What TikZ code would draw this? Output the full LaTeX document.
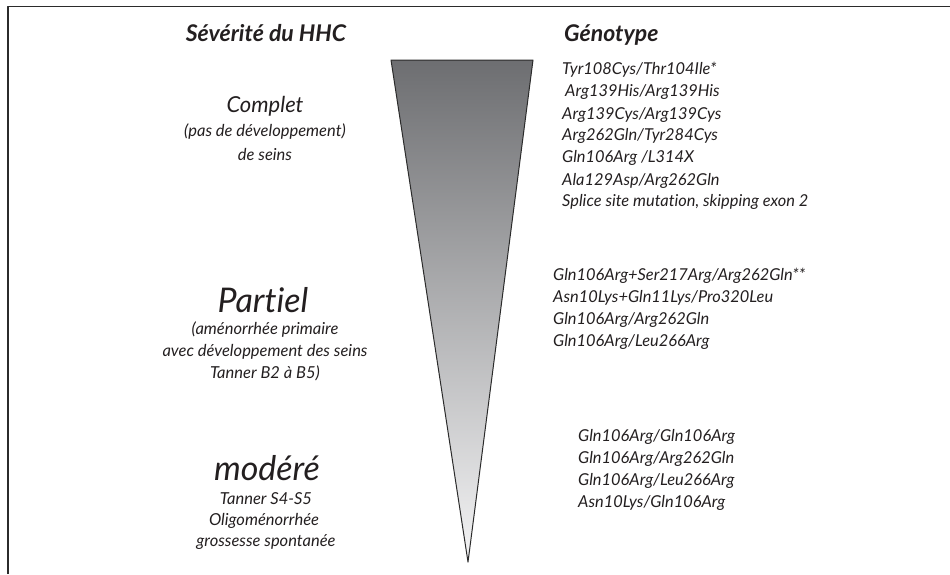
\documentclass[tikz,border=0pt]{standalone}
\usepackage{fontspec}
\setmainfont{Lato}[Ligatures=NoCommon]
\usepackage{tikz}
\usepackage{xcolor}
\definecolor{framegray}{HTML}{2B2B2B}
\definecolor{coneTop}{HTML}{6D6E71}
\definecolor{coneBot}{HTML}{F4F4F5}
\definecolor{txtgray}{HTML}{231F20}

\begin{document}
\begin{tikzpicture}[x=1pt, y=-1pt, line cap=round, line join=round,
  head/.style={font=\fontsize{23}{26}\selectfont\bfseries\itshape, text=txtgray, inner sep=0pt},
  grade/.style={font=\fontsize{22}{25}\selectfont\itshape, text=txtgray, inner sep=0pt},
  biggrade/.style={font=\fontsize{34}{38}\selectfont\itshape, text=txtgray, inner sep=0pt},
  note/.style={font=\fontsize{16.5}{19}\selectfont\itshape, text=txtgray, inner sep=0pt},
  geno/.style={font=\fontsize{16.4}{19}\selectfont\itshape, text=txtgray, inner sep=0pt, anchor=west}]
\useasboundingbox (0,0) rectangle (950,574);
% cadre
\draw[framegray, line width=1.6pt, line cap=butt] (8,574) -- (8,6.5) -- (950,6.5);
% cone de severite
\shade[top color=coneTop, bottom color=coneBot] (391,60) -- (533,60) -- (468,562) -- cycle;
\draw[framegray, line width=1pt] (391,60) -- (533,60) -- (468,562) -- cycle;

% titres
\node[head] (sev) at (266,33) {Sévérité du HHC};
\node[head, anchor=west] (gen) at (564,35) {Génotype};

% phenotypes
\node[grade] (complet) at (265,106) {Complet};
\node[note] (complet1) at (265,132) {(pas de développement)};
\node[note] (complet2) at (265,154) {de seins};
\node[biggrade] (partiel) at (263,300) {Partiel};
\node[note] (partiel1) at (265,330) {(aménorrhée primaire};
\node[note] (partiel2) at (265,352) {avec développement des seins};
\node[note] (partiel3) at (265,373) {Tanner B2 à B5)};
\node[biggrade] (modere) at (267,468) {modéré};
\node[note] (modere1) at (266,499) {Tanner S4-S5};
\node[note] (modere2) at (264,521) {Oligoménorrhée};
\node[note] (modere3) at (266,542) {grossesse spontanée};

% genotypes
\node[geno] (g11) at (562,70) {Tyr108Cys/Thr104Ile*};
\node[geno] (g12) at (565,92) {Arg139His/Arg139His};
\node[geno] (g13) at (562,115) {Arg139Cys/Arg139Cys};
\node[geno] (g14) at (562,136) {Arg262Gln/Tyr284Cys};
\node[geno] (g15) at (562,158) {Gln106Arg /L314X};
\node[geno] (g16) at (562,181) {Ala129Asp/Arg262Gln};
\node[geno] (g17) at (562,202) {Splice site mutation, skipping exon 2};

\node[geno] (g21) at (553,276) {Gln106Arg+Ser217Arg/Arg262Gln**};
\node[geno] (g22) at (553,298) {Asn10Lys+Gln11Lys/Pro320Leu};
\node[geno] (g23) at (553,320) {Gln106Arg/Arg262Gln};
\node[geno] (g24) at (553,342) {Gln106Arg/Leu266Arg};

\node[geno] (g31) at (578,437) {Gln106Arg/Gln106Arg};
\node[geno] (g32) at (578,459) {Gln106Arg/Arg262Gln};
\node[geno] (g33) at (578,481) {Gln106Arg/Leu266Arg};
\node[geno] (g34) at (578,503) {Asn10Lys/Gln106Arg};
\end{tikzpicture}
\end{document}
